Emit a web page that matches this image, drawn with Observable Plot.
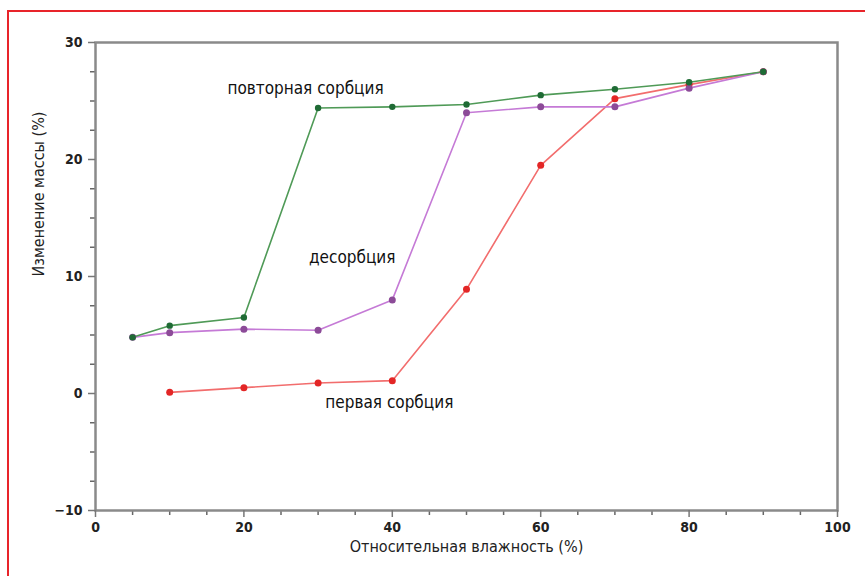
<!DOCTYPE html>
<html><head><meta charset="utf-8">
<script src="https://cdn.jsdelivr.net/npm/d3@7"></script>
<script src="https://cdn.jsdelivr.net/npm/@observablehq/plot@0.6"></script>
<style>
body{margin:0;background:#fff;}
#wrap{position:relative;width:865px;height:576px;overflow:hidden;}
#border{position:absolute;left:7px;top:10px;width:900px;height:600px;border-left:2px solid #e8242a;border-top:2px solid #e8242a;pointer-events:none;}
svg{font-family:"Liberation Sans Narrow","DejaVu Sans Condensed","Liberation Sans",sans-serif;}
</style></head>
<body><div id="wrap"><div id="border"></div></div>
<script>
const rh = [5, 10, 20, 30, 40, 50, 60, 70, 80, 90];
const resorption = [4.8, 5.8, 6.5, 24.4, 24.5, 24.7, 25.5, 26.0, 26.6, 27.5];
const desorption = [4.8, 5.2, 5.5, 5.4, 8.0, 24.0, 24.5, 24.5, 26.1, 27.5];
const rhFirst = [10, 20, 30, 40, 50, 60, 70, 80, 90];
const firstSorption = [0.1, 0.5, 0.9, 1.1, 8.9, 19.5, 25.2, 26.4, 27.5];
const labels = ["повторная сорбция", "десорбция", "первая сорбция"];
const labelX = [28.3, 34.6, 39.6];
const labelY = [26.1, 11.6, -0.8];
const xDomain = [0, 100];
const yDomain = [-10, 30];
const xMajor = [0, 20, 40, 60, 80, 100];
const yMajor = [-10, 0, 10, 20, 30];
const xMinor = [5, 10, 15, 25, 30, 35, 45, 50, 55, 65, 70, 75, 85, 90, 95];
const yMinor = [-7.5, -5, -2.5, 2.5, 5, 7.5, 12.5, 15, 17.5, 22.5, 25, 27.5];

const first = rhFirst.map((x, i) => ({x, y: firstSorption[i]}));
const des = rh.map((x, i) => ({x, y: desorption[i]}));
const res = rh.map((x, i) => ({x, y: resorption[i]}));
const lab = labels.map((t, i) => ({t, x: labelX[i], y: labelY[i]}));
// minor tick length, ~5px, expressed in each scale's units
const xTickLen = (xDomain[1] - xDomain[0]) * 5 / 742;
const yTickLen = (yDomain[1] - yDomain[0]) * 5 / 468;

const chart = Plot.plot({
  width: 865, height: 576,
  marginLeft: 95, marginRight: 28, marginTop: 42, marginBottom: 66,
  x: {domain: xDomain},
  y: {domain: yDomain},
  style: {fontFamily: '"Liberation Sans Narrow","DejaVu Sans Condensed","Liberation Sans",sans-serif', background: "transparent"},
  marks: [
    Plot.ruleX(xMinor, {x: d => d, y1: yDomain[0], y2: yDomain[0] - yTickLen, stroke: "#666", strokeWidth: 1.5}),
    Plot.ruleY(yMinor, {y: d => d, x1: xDomain[0], x2: xDomain[0] - xTickLen, stroke: "#666", strokeWidth: 1.5}),
    Plot.frame({stroke: "#8a8a8a", strokeWidth: 2.5}),
    Plot.axisX({ticks: xMajor, tickSize: 7, tickPadding: 5, stroke: "#777", strokeWidth: 1.5, fontSize: 14, fontWeight: "bold", fill: "#222", label: null}),
    Plot.axisY({ticks: yMajor, tickSize: 7, tickPadding: 6, stroke: "#777", strokeWidth: 1.5, fontSize: 14, fontWeight: "bold", fill: "#222", label: null}),
    Plot.text(["Относительная влажность (%)"], {frameAnchor: "bottom", dy: 41, fontSize: 16, fill: "#222"}),
    Plot.text(["Изменение массы (%)"], {frameAnchor: "left", dx: -57, rotate: -90, fontSize: 16, fill: "#222"}),
    Plot.line(first, {x: "x", y: "y", stroke: "#f26d6d", strokeWidth: 1.6}),
    Plot.line(des, {x: "x", y: "y", stroke: "#c57ad6", strokeWidth: 1.6}),
    Plot.line(res, {x: "x", y: "y", stroke: "#4f9a57", strokeWidth: 1.6}),
    Plot.dot(first, {x: "x", y: "y", r: 3.5, fill: "#e32626"}),
    Plot.dot(des, {x: "x", y: "y", r: 3.5, fill: "#8c4b98"}),
    Plot.dot(res, {x: "x", y: "y", r: 3.2, fill: "#1f6b35"}),
    Plot.text(lab, {x: "x", y: "y", text: "t", fontSize: 17, fill: "#111"})
  ]
});
document.getElementById("wrap").insertBefore(chart, document.getElementById("border"));
</script>
</body></html>
